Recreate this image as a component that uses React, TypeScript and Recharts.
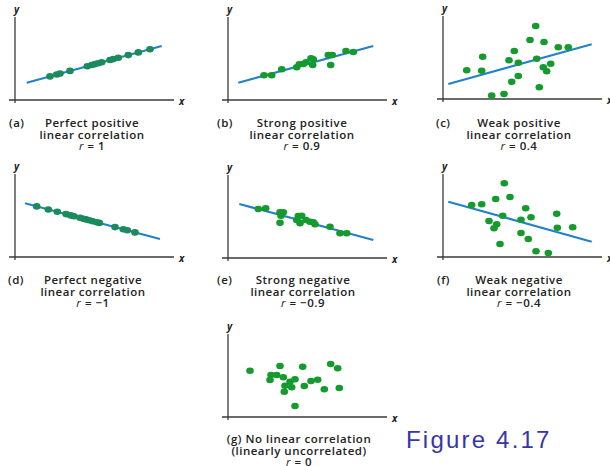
import React from "react";
import { ScatterChart, Scatter, XAxis, YAxis, ReferenceLine } from "recharts";

type Pt = { x: number; y: number };

// coordinates are in panel units (1 unit ~ 1px), origin at the axis corner
const pointsA: Pt[] = [
  { x: 35, y: 23.6 }, { x: 41.7, y: 25.5 }, { x: 45, y: 26.4 }, { x: 55, y: 29.1 },
  { x: 72.3, y: 33.8 }, { x: 76.7, y: 35 }, { x: 80, y: 35.9 }, { x: 83.3, y: 36.8 },
  { x: 86.7, y: 37.7 }, { x: 95, y: 40 }, { x: 98.3, y: 40.9 }, { x: 103.3, y: 42.2 },
  { x: 113.3, y: 44.9 }, { x: 123.3, y: 47.6 }, { x: 135, y: 50.8 },
];
const fitA: Pt[] = [{ x: 11.7, y: 17.3 }, { x: 146.7, y: 54 }];

const pointsB: Pt[] = [
  { x: 36, y: 24.7 }, { x: 43.7, y: 24.7 }, { x: 53.7, y: 30.7 }, { x: 68.7, y: 32.7 },
  { x: 71.3, y: 35.7 }, { x: 75.3, y: 36 }, { x: 78, y: 37.7 }, { x: 83, y: 41.7 },
  { x: 85.3, y: 40.7 }, { x: 84.7, y: 35 }, { x: 100.3, y: 45 }, { x: 104.3, y: 45 },
  { x: 102.7, y: 35 }, { x: 118, y: 49 }, { x: 125.3, y: 48 },
];
const fitB: Pt[] = [{ x: 10.3, y: 17.3 }, { x: 145.3, y: 54 }];

const pointsC: Pt[] = [
  { x: 23.7, y: 28.7 }, { x: 39.7, y: 42.3 }, { x: 38.7, y: 28.3 }, { x: 48.7, y: 3.5 },
  { x: 61, y: 5 }, { x: 66, y: 38.7 }, { x: 71.3, y: 48 }, { x: 68.7, y: 17.3 },
  { x: 75.3, y: 36.3 }, { x: 75.3, y: 23 }, { x: 87, y: 59 }, { x: 92.7, y: 73 },
  { x: 93.7, y: 40.3 }, { x: 101, y: 57 }, { x: 100.3, y: 31.7 }, { x: 103.7, y: 27.7 },
  { x: 107.7, y: 35.3 }, { x: 96.3, y: 11.7 }, { x: 115.3, y: 51.7 }, { x: 125.3, y: 51.7 },
];
const fitC: Pt[] = [{ x: 5.3, y: 15 }, { x: 148.7, y: 54.7 }];

const pointsD: Pt[] = [
  { x: 21.7, y: 50.6 }, { x: 33.3, y: 47.5 }, { x: 42.3, y: 45.2 }, { x: 51, y: 42.9 },
  { x: 55.7, y: 41.6 }, { x: 59, y: 40.7 }, { x: 65, y: 39.2 }, { x: 68.3, y: 38.3 },
  { x: 71, y: 37.6 }, { x: 74.3, y: 36.7 }, { x: 77.7, y: 35.8 }, { x: 81.7, y: 34.7 },
  { x: 84.3, y: 34.1 }, { x: 100, y: 29.9 }, { x: 108.3, y: 27.7 }, { x: 112.3, y: 26.7 },
  { x: 120, y: 24.6 },
];
const fitD: Pt[] = [{ x: 10, y: 53.7 }, { x: 145, y: 18 }];

const pointsE: Pt[] = [
  { x: 30.3, y: 49 }, { x: 37.7, y: 49.7 }, { x: 52, y: 45.7 }, { x: 55.3, y: 45.7 },
  { x: 53, y: 42.3 }, { x: 52, y: 35.3 }, { x: 70.3, y: 42 }, { x: 73.7, y: 42.3 },
  { x: 68.7, y: 38 }, { x: 72, y: 34.7 }, { x: 78, y: 38 }, { x: 82, y: 36.3 },
  { x: 85.3, y: 35.7 }, { x: 87, y: 33.7 }, { x: 102, y: 31.3 }, { x: 112, y: 24.7 },
  { x: 118.7, y: 24.7 },
];
const fitE: Pt[] = [{ x: 11.3, y: 54 }, { x: 145.3, y: 18 }];

const pointsF: Pt[] = [
  { x: 28.7, y: 52 }, { x: 38.7, y: 52.7 }, { x: 52.7, y: 58 }, { x: 61.3, y: 73.7 },
  { x: 67, y: 60 }, { x: 59.7, y: 41.3 }, { x: 46, y: 36 }, { x: 53.7, y: 32.7 },
  { x: 51, y: 28.7 }, { x: 57, y: 13 }, { x: 82.7, y: 48.7 }, { x: 88, y: 39.7 },
  { x: 78, y: 37.3 }, { x: 78, y: 24 }, { x: 85.3, y: 18 }, { x: 93, y: 5.7 },
  { x: 105.3, y: 4 }, { x: 113.7, y: 43.3 }, { x: 114.3, y: 29.3 }, { x: 129.7, y: 29.7 },
];
const fitF: Pt[] = [{ x: 5.3, y: 55.3 }, { x: 148.7, y: 15.3 }];

const pointsG: Pt[] = [
  { x: 22, y: 46.3 }, { x: 52, y: 51 }, { x: 74.7, y: 50.3 }, { x: 102.7, y: 53 },
  { x: 109.7, y: 48.7 }, { x: 43, y: 42 }, { x: 48.7, y: 42 }, { x: 42, y: 37 },
  { x: 55.3, y: 39.7 }, { x: 62, y: 35.3 }, { x: 67, y: 37.7 }, { x: 57, y: 31.3 },
  { x: 63.7, y: 29.7 }, { x: 56.3, y: 25.3 }, { x: 76.3, y: 31 }, { x: 83, y: 36 },
  { x: 89.7, y: 37.3 }, { x: 96.3, y: 27.7 }, { x: 111.3, y: 29 }, { x: 67, y: 11 },
];

const captionA = ["Perfect positive", "linear correlation", "1"];
const captionB = ["Strong positive", "linear correlation", "0.9"];
const captionC = ["Weak positive", "linear correlation", "0.4"];
const captionD = ["Perfect negative", "linear correlation", "\u22121"];
const captionE = ["Strong negative", "linear correlation", "\u22120.9"];
const captionF = ["Weak negative", "linear correlation", "\u22120.4"];
const captionG = ["(g) No linear correlation", "(linearly uncorrelated)", "0"];

const TEAL = "#1b8a5c";
const GREEN = "#159a2e";
const BLUE = "#2382c7";
const AXIS = "#3a3a3a";
const TEXT = "#222";
const FONT = "'Open Sans', 'DejaVu Sans', sans-serif";

const X_MIN = -6;
const X_MAX = 159;
const Y_MIN = -3;
const Y_MAX = 83;

const dotShape = (color: string) => (props: any) => (
  <ellipse cx={props.cx} cy={props.cy} rx={3.8} ry={3.3} fill={color} />
);

function Panel({ ox, oy, points, fit, dot }: { ox: number; oy: number; points: Pt[]; fit?: Pt[]; dot: string }) {
  const w = X_MAX - X_MIN;
  const h = Y_MAX - Y_MIN;
  const lbl: React.CSSProperties = {
    position: "absolute",
    fontFamily: FONT,
    fontStyle: "italic",
    fontWeight: 700,
    fontSize: 10,
    lineHeight: "10px",
    color: TEXT,
  };
  return (
    <>
      <div style={{ position: "absolute", left: ox + X_MIN, top: oy - Y_MAX, width: w, height: h }}>
        <ScatterChart width={w} height={h} margin={{ top: 0, right: 0, bottom: 0, left: 0 }}>
          <XAxis type="number" dataKey="x" domain={[X_MIN, X_MAX]} hide allowDataOverflow />
          <YAxis type="number" dataKey="y" domain={[Y_MIN, Y_MAX]} hide allowDataOverflow />
          <ReferenceLine x={0} stroke={AXIS} strokeWidth={1.3} />
          <ReferenceLine y={0} stroke={AXIS} strokeWidth={1.3} />
          {fit && (
            <Scatter
              data={fit}
              line={{ stroke: BLUE, strokeWidth: 2.2 }}
              shape={() => <g />}
              isAnimationActive={false}
            />
          )}
          <Scatter data={points} shape={dotShape(dot)} isAnimationActive={false} />
        </ScatterChart>
      </div>
      <div style={{ ...lbl, left: ox - 1, top: oy - Y_MAX - 13 }}>y</div>
      <div style={{ ...lbl, left: ox + X_MAX + 5, top: oy - 4 }}>x</div>
    </>
  );
}

function Caption({ tag, tagLeft, cx, top, lines }: { tag?: string; tagLeft?: number; cx: number; top: number; lines: string[] }) {
  const base: React.CSSProperties = {
    position: "absolute",
    fontFamily: FONT,
    fontWeight: 600,
    fontSize: 11.5,
    lineHeight: "11.5px",
    letterSpacing: 0.5,
    color: TEXT,
    whiteSpace: "nowrap",
  };
  return (
    <>
      {tag && <div style={{ ...base, left: tagLeft, top }}>{tag}</div>}
      <div style={{ ...base, left: cx - 100, width: 200, top, textAlign: "center" }}>
        <div>{lines[0]}</div>
        <div>{lines[1]}</div>
        <div>
          <i style={{ fontWeight: 400 }}>r</i> = {lines[2]}
        </div>
      </div>
    </>
  );
}

export default function App() {
  return (
    <div style={{ position: "absolute", left: 0, top: 0, width: 610, height: 466, background: "#fff", overflow: "hidden" }}>
      <Panel ox={15} oy={100} points={pointsA} fit={fitA} dot={TEAL} />
      <Panel ox={228} oy={100} points={pointsB} fit={fitB} dot={GREEN} />
      <Panel ox={443} oy={99} points={pointsC} fit={fitC} dot={GREEN} />
      <Panel ox={15} oy={257} points={pointsD} fit={fitD} dot={TEAL} />
      <Panel ox={228} oy={258} points={pointsE} fit={fitE} dot={GREEN} />
      <Panel ox={443} oy={257} points={pointsF} fit={fitF} dot={GREEN} />
      <Panel ox={228} oy={417} points={pointsG} dot={GREEN} />

      <Caption tag="(a)" tagLeft={9} cx={92} top={117} lines={captionA} />
      <Caption tag="(b)" tagLeft={217} cx={302} top={117} lines={captionB} />
      <Caption tag="(c)" tagLeft={436} cx={519} top={117} lines={captionC} />
      <Caption tag="(d)" tagLeft={8} cx={93} top={274} lines={captionD} />
      <Caption tag="(e)" tagLeft={217} cx={303} top={274} lines={captionE} />
      <Caption tag="(f)" tagLeft={437} cx={519} top={274} lines={captionF} />
      <Caption cx={299} top={433} lines={captionG} />

      <div
        style={{
          position: "absolute",
          left: 406,
          top: 427,
          fontFamily: "'Liberation Sans', Arial, sans-serif",
          fontSize: 24,
          lineHeight: "26px",
          letterSpacing: 2.2,
          color: "#3636a8",
          whiteSpace: "nowrap",
        }}
      >
        Figure 4.17
      </div>
    </div>
  );
}
